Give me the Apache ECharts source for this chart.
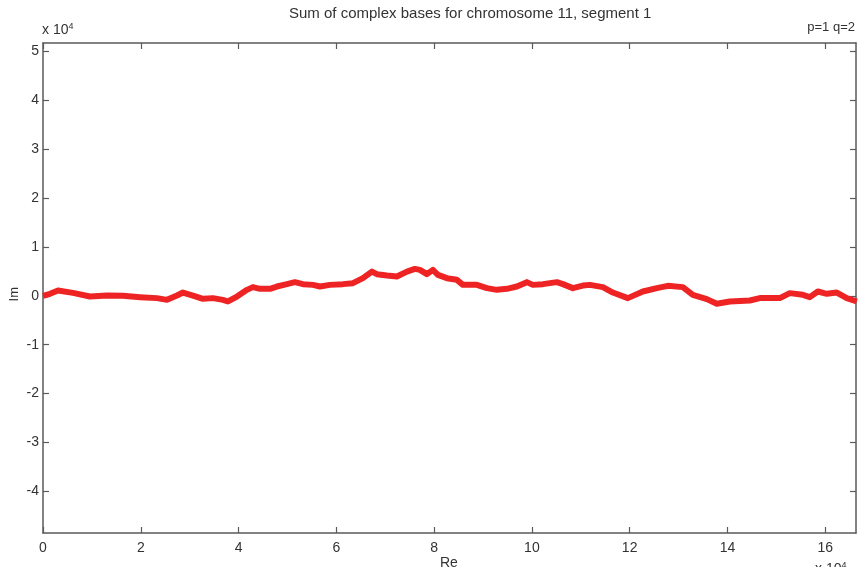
<!DOCTYPE html>
<html>
<head>
<meta charset="utf-8">
<script src="https://cdn.jsdelivr.net/npm/echarts@6/dist/echarts.min.js"></script>
<style>
  html, body { margin: 0; padding: 0; background: #fff; }
  #chart { width: 858px; height: 567px; }
</style>
</head>
<body>
<div id="chart"></div>
<script>
// Walk of summed complex bases (units of 10^4)
var re = [0, 0.143, 0.307, 0.613, 0.961, 1.309, 1.636, 1.984, 2.331, 2.536, 2.740, 2.863, 3.067, 3.272,
  3.476, 3.681, 3.783, 3.967, 4.172, 4.294, 4.438, 4.642, 4.785, 4.990, 5.153, 5.317, 5.521, 5.665,
  5.869, 6.135, 6.339, 6.544, 6.728, 6.830, 7.035, 7.239, 7.444, 7.607, 7.710, 7.853, 7.975, 8.078,
  8.262, 8.466, 8.589, 8.875, 9.080, 9.284, 9.489, 9.693, 9.898, 10.020, 10.225, 10.511, 10.634,
  10.838, 11.043, 11.186, 11.452, 11.656, 11.963, 12.270, 12.556, 12.781, 13.088, 13.292, 13.579,
  13.783, 14.049, 14.458, 14.663, 15.072, 15.276, 15.542, 15.685, 15.849, 16.033, 16.237, 16.442, 16.646];
var im = [0, 0.041, 0.108, 0.061, -0.014, 0.006, 0, -0.027, -0.047, -0.082, 0.006, 0.067, 0.006, -0.061,
  -0.047, -0.082, -0.116, -0.014, 0.122, 0.178, 0.143, 0.143, 0.190, 0.239, 0.280, 0.239, 0.224, 0.190,
  0.224, 0.239, 0.259, 0.361, 0.496, 0.443, 0.414, 0.394, 0.496, 0.551, 0.531, 0.443, 0.531, 0.429,
  0.361, 0.327, 0.224, 0.224, 0.157, 0.122, 0.143, 0.190, 0.280, 0.224, 0.239, 0.280, 0.239,
  0.157, 0.210, 0.224, 0.178, 0.067, -0.047, 0.088, 0.157, 0.204, 0.178, 0.020, -0.067,
  -0.163, -0.116, -0.096, -0.047, -0.047, 0.055, 0.020, -0.027, 0.088, 0.041, 0.067, -0.047, -0.116];

var xTicks = [0, 2, 4, 6, 8, 10, 12, 14, 16];
var yTicks = [-4, -3, -2, -1, 0, 1, 2, 3, 4, 5];

var titleText = 'Sum of complex bases for chromosome 11, segment 1';
var paramText = 'p=1 q=2';

var points = re.map(function (v, i) { return [v, im[i]]; });

var FONT = '"Liberation Sans", Arial, sans-serif';
var axisCol = '#5a5a5a';
var textCol = '#333';

function boxAxis(opts) {
  return Object.assign({
    type: 'value',
    axisLine: { show: true, onZero: false, lineStyle: { color: axisCol, width: 1.5 } },
    splitLine: { show: false },
    axisLabel: { show: false }
  }, opts);
}
function ticks(values) {
  return { show: true, inside: true, length: 6, customValues: values, lineStyle: { color: axisCol, width: 1.2 } };
}
var expRich = { s: { fontSize: 9, verticalAlign: 'top', padding: [0, 0, 7, 0], fill: textCol } };

var chart = echarts.init(document.getElementById('chart'), null, { renderer: 'canvas' });
chart.setOption({
  animation: false,
  backgroundColor: '#fff',
  grid: { left: 43, right: 2, top: 43, bottom: 34 },
  xAxis: [
    boxAxis({
      position: 'bottom', min: 0, max: 16.63, axisTick: ticks(xTicks),
      axisLabel: { show: true, customValues: xTicks, color: textCol, fontFamily: FONT, fontSize: 14, margin: 8 }
    }),
    boxAxis({ position: 'top', min: 0, max: 16.63, axisTick: ticks(xTicks) })
  ],
  yAxis: [
    boxAxis({
      position: 'left', min: -4.85, max: 5.17, axisTick: ticks(yTicks),
      axisLabel: { show: true, customValues: yTicks, color: textCol, fontFamily: FONT, fontSize: 14, margin: 4 }
    }),
    boxAxis({ position: 'right', min: -4.85, max: 5.17, axisTick: ticks(yTicks) })
  ],
  series: [{
    type: 'line',
    data: points,
    showSymbol: false,
    clip: true,
    lineStyle: { color: '#ee2424', width: 6, join: 'round' }
  }],
  graphic: [
    { type: 'text', left: 289, top: 6,
      style: { text: titleText, font: '15px ' + FONT, fill: textCol } },
    { type: 'text', right: 3, top: 21,
      style: { text: paramText, font: '13px ' + FONT, fill: textCol } },
    { type: 'text', left: 42, top: 22,
      style: { text: 'x 10{s|4}', font: '14px ' + FONT, fill: textCol, rich: expRich } },
    { type: 'text', x: 8, y: 287, rotation: Math.PI / 2,
      style: { text: 'Im', font: '13px ' + FONT, fill: textCol, align: 'right' } },
    { type: 'text', left: 440, top: 556,
      style: { text: 'Re', font: '14px ' + FONT, fill: textCol } },
    { type: 'text', left: 815, top: 561,
      style: { text: 'x 10{s|4}', font: '14px ' + FONT, fill: textCol, rich: expRich } }
  ]
});
</script>
</body>
</html>
